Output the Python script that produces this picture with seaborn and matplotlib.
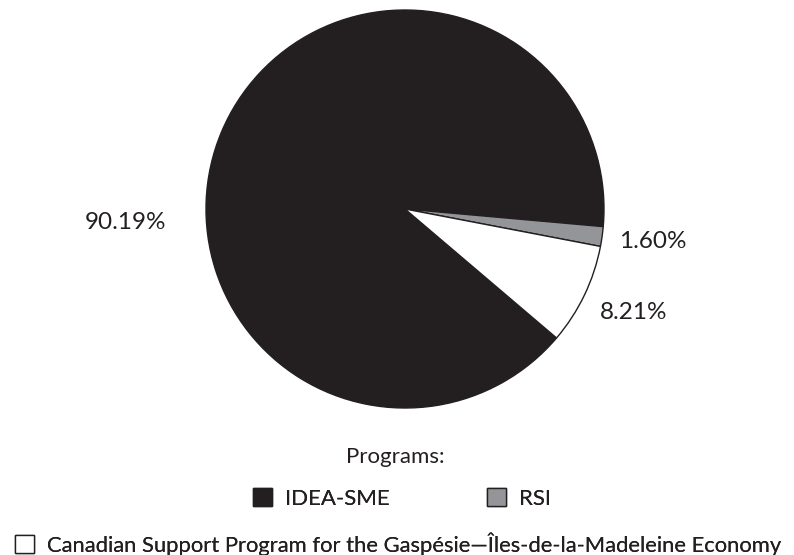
import matplotlib
matplotlib.use("Agg")
import matplotlib.pyplot as plt
import seaborn as sns

# Share of funding by program
programs = ["IDEA-SME", "RSI",
            "Canadian Support Program for the Gaspésie\u2014Îles-de-la-Madeleine Economy"]
shares = [90.19, 1.60, 8.21]
share_labels = ["90.19%", "1.60%", "8.21%"]
colors = ["#231f20", "#939598", "#ffffff"]
legend_title = "Programs:"

sns.set_theme(style="white")
plt.rcParams["font.family"] = ["Lato", "DejaVu Sans"]
TEXT = "#231f20"

W, H = 794, 555
fig = plt.figure(figsize=(W / 100, H / 100), dpi=100)
ax = fig.add_axes([0, 0, 1, 1])
cx, cy, r = 405, 209, 199

wedges, _ = ax.pie(shares, colors=colors, startangle=-40.4, counterclock=False,
                   radius=1.0, center=(0, 0),
                   wedgeprops=dict(edgecolor=TEXT, linewidth=1.0))
ax.set_xlim(-cx / r, (W - cx) / r)
ax.set_ylim(-(H - cy) / r, cy / r)
ax.set_aspect("equal")
ax.axis("off")

label_pos = [(-1.404, -0.068), (1.246, -0.161), (1.151, -0.518)]
for (x, y), lab in zip(label_pos, share_labels):
    ax.text(x, y, lab, ha="center", va="center", fontsize=17.5, color=TEXT)

# Legend block
fig.text(395 / W, 1 - 463 / H, legend_title, ha="center", va="baseline",
         fontsize=16, color=TEXT)

legend_rows = [(253, 498.5, 16.0), (487, 498.5, 16.0), (15, 544, 15.8)]
for wedge, name, (lx, ly, fs) in zip(wedges, programs, legend_rows):
    leg = fig.legend([wedge], [name], loc="center left",
                     bbox_to_anchor=(lx / W, 1 - ly / H), frameon=False,
                     fontsize=fs, borderpad=0, borderaxespad=0,
                     handlelength=0.85, handleheight=0.85, handletextpad=0.6)
    for t in leg.get_texts():
        t.set_color(TEXT)
    fig.add_artist(leg)

fig.savefig("out.png", dpi=100, facecolor="white")
